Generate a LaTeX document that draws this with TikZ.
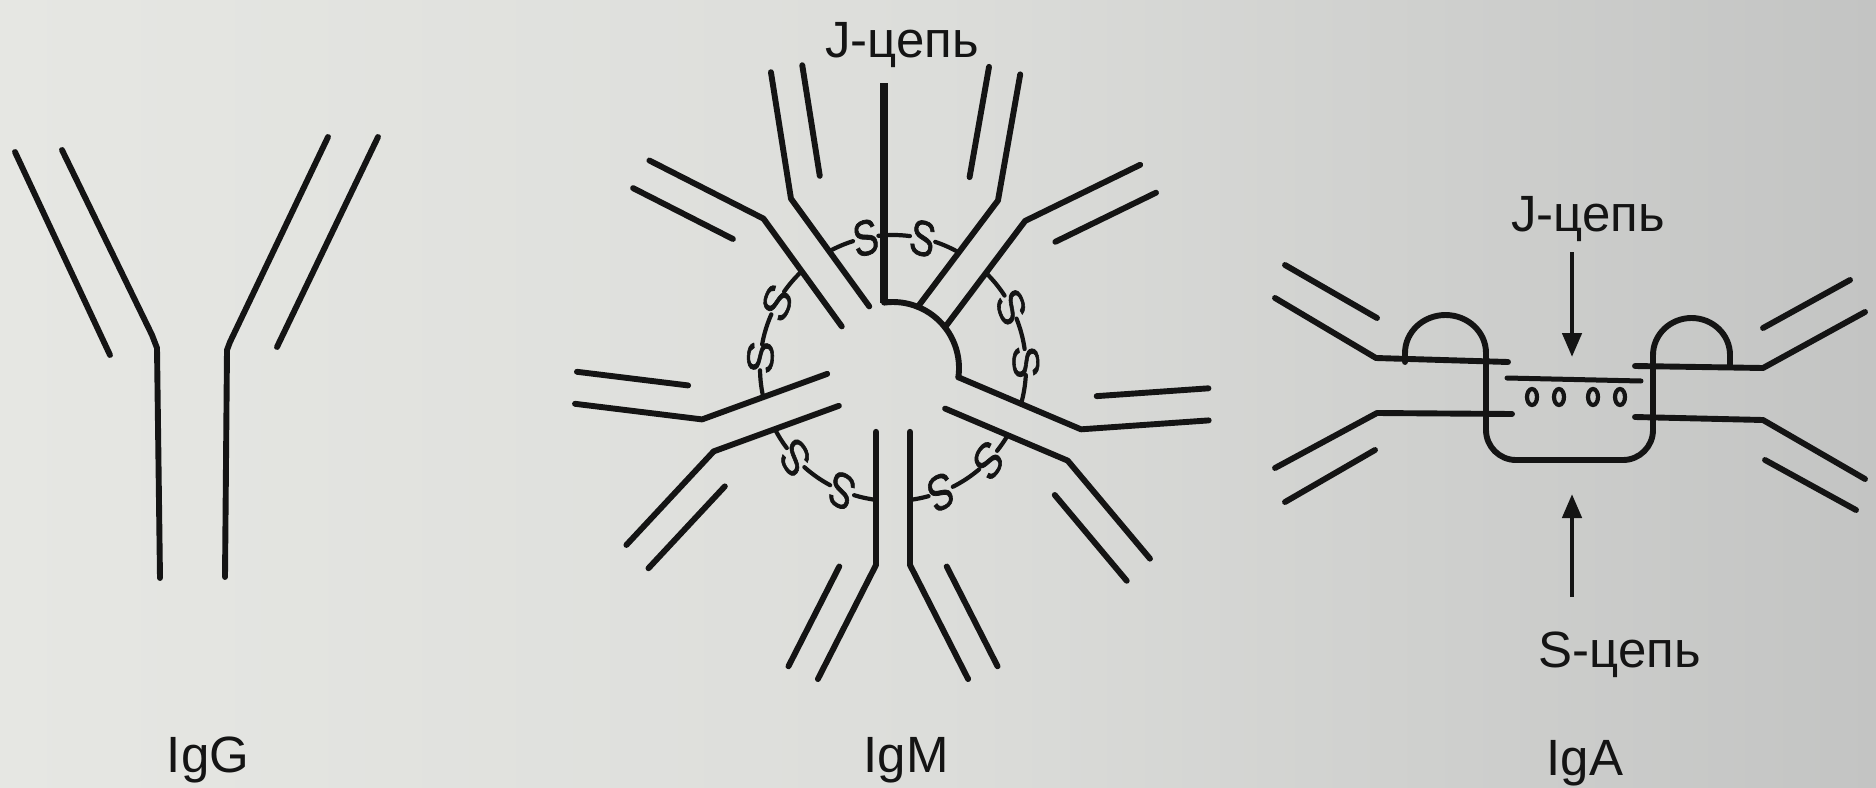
\documentclass[tikz,border=0pt]{standalone}
\usepackage{fontspec}
\setmainfont{Liberation Sans}
\newfontfamily\bridgefont[FakeBold=1.5]{Liberation Sans}
\usetikzlibrary{arrows.meta}
\definecolor{ink}{HTML}{141414}
\definecolor{bgleft}{HTML}{E6E7E3}
\definecolor{bgmid}{HTML}{DCDDDA}
\definecolor{bgright}{HTML}{C3C4C3}

\begin{document}
\begin{tikzpicture}[x=1pt, y=-1pt,
  strand/.style={draw=ink, line width=5.9pt, line cap=round, line join=round},
  bond/.style={draw=ink, line width=4.2pt, line cap=round},
  lbltext/.style={font=\fontsize{51}{60}\selectfont, text=ink, inner sep=0pt, anchor=base},
  sulfur/.style={font=\bridgefont\fontsize{50}{56}\selectfont, text=ink, inner sep=0pt, xscale=0.75},
  pointer/.style={draw=ink, line width=4.6pt, -{Triangle[length=24pt,width=19pt]}},
]
\useasboundingbox (0,0) rectangle (1876,787);
\shade[left color=bgleft, right color=bgright, middle color=bgmid] (0,0) rectangle (1876,787);

% ---------- IgG monomer ----------
\draw[strand] (15,152) -- (110,355);
\draw[strand] (62,150) -- (152,335) -- (157,348) -- (160,578);
\draw[strand] (328,137) -- (230,342) -- (227,350) -- (225,577);
\draw[strand] (378,137) -- (277,347);
\node[lbltext] (igg) at (208,772) {IgG};

% ---------- IgM pentamer ----------
\begin{scope}[shift={(893,368)}, x=1pt, y=1pt]
  % five Y-shaped monomers pointing outwards
  \foreach \a in {53,126,200,270,337}{
    \begin{scope}[rotate=\a]
      \draw[strand] (63.8,17) -- (197,17) -- ++(27:128);
      \draw[strand] (63.8,-17) -- (197,-17) -- ++(-27:128);
      \draw[strand] (198.5,53.7) -- ++(27:112);
      \draw[strand] (198.5,-53.7) -- ++(-27:112);
    \end{scope}
  }
  % central ring segment
  \draw[strand] (97.8:66) arc[start angle=97.8, end angle=-8, radius=66pt];
  % disulfide bridges between neighbouring monomers
  \foreach \s/\e in {53/126,126/200,200/270,270/337,337/413}{
    \pgfmathsetmacro\angM{(\s+\e)/2}
    \pgfmathsetmacro\angA{\s+7.3}
    \pgfmathsetmacro\angB{\angM-18}
    \pgfmathsetmacro\angC{\angM-6.8}
    \pgfmathsetmacro\angD{\angM+6.8}
    \pgfmathsetmacro\angE{\angM+18}
    \pgfmathsetmacro\angF{\e-7.3}
    \pgfmathsetmacro\angS{\angM-12.4}
    \pgfmathsetmacro\angT{\angM+12.4}
    \draw[bond] (\angA:133) arc[start angle=\angA, end angle=\angB, radius=133pt];
    \draw[bond] (\angC:133) arc[start angle=\angC, end angle=\angD, radius=133pt];
    \draw[bond] (\angE:133) arc[start angle=\angE, end angle=\angF, radius=133pt];
    \node[sulfur, rotate=\angS-90] (sa\s) at (\angS:133) {S};
    \node[sulfur, rotate=\angT-90] (sb\s) at (\angT:133) {S};
  }
  \coordinate (jmbot) at (-9,65.4);
  \coordinate (jmtop) at (-9,285);
\end{scope}
\draw[strand, line width=7.5pt, line cap=butt] (jmtop) -- (jmbot);
\node[lbltext] (jm) at (902,57) {J-цепь};
\node[lbltext] (igm) at (906,772) {IgM};

% ---------- IgA dimer ----------
% left monomer
\draw[strand] (1285,265) -- (1377,318);
\draw[strand] (1275,298) -- (1376,358) -- (1508,362);
\draw[strand] (1275,468) -- (1377,413) -- (1512,414);
\draw[strand] (1285,502) -- (1375,450);
% right monomer
\draw[strand] (1763,328) -- (1850,280);
\draw[strand] (1635,366) -- (1763,368) -- (1865,312);
\draw[strand] (1635,417) -- (1763,420) -- (1865,479);
\draw[strand] (1765,460) -- (1856,510);
% secretory component wrapped around the pair
\draw[strand] (1405,362) -- (1405,353)
  arc[start angle=180, end angle=0, x radius=40.5pt, y radius=38pt]
  -- (1486,430) arc[start angle=180, end angle=270, radius=30pt]
  -- (1623,460) arc[start angle=270, end angle=360, radius=30pt]
  -- (1653,355) arc[start angle=180, end angle=0, x radius=38.5pt, y radius=37pt]
  -- (1730,366);
% J chain between the tails
\draw[bond, line width=5pt] (1507,378) -- (1641,381);
\foreach \x in {1532,1559,1593,1620}
  \draw[ink, line width=4.2pt] (\x,397) ellipse[x radius=5pt, y radius=8pt];

\node[lbltext] (ja) at (1588,231) {J-цепь};
\node[lbltext] (sc) at (1620,667) {S-цепь};
\node[lbltext] (iga) at (1585,775) {IgA};
\coordinate (jatail) at (1572,252);
\coordinate (jatip) at (1572,357);
\draw[pointer] (jatail) -- (jatip);
\coordinate (satail) at (1572,597);
\coordinate (satip) at (1572,494);
\draw[pointer] (satail) -- (satip);
\end{tikzpicture}
\end{document}
